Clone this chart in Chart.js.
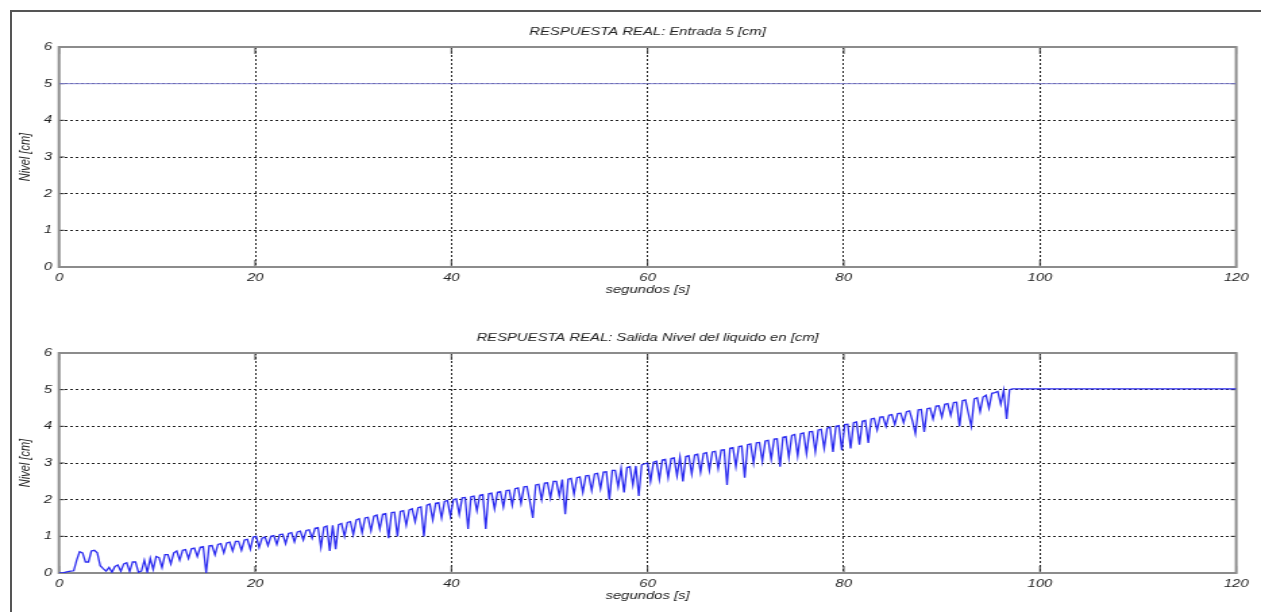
<!DOCTYPE html>
<html>
<head>
<meta charset="utf-8">
<script src="https://cdn.jsdelivr.net/npm/chart.js@4"></script>
<style>
  html, body { margin: 0; padding: 0; background: #fff; }
  body { width: 1261px; height: 612px; position: relative; overflow: hidden; }
  #marco { position: absolute; left: 10px; top: 10px; width: 1300px; height: 700px;
           border-left: 2px solid #555; border-top: 2px solid #555; }
  canvas { position: absolute; left: 0; }
  #graficoEntrada { top: 0; }
  #graficoSalida { top: 306px; }
</style>
</head>
<body>
<div id="marco"></div>
<canvas id="graficoEntrada" width="934" height="306" style="width:1261px;height:306px"></canvas>
<canvas id="graficoSalida" width="934" height="306" style="width:1261px;height:306px"></canvas>
<script>
// datos
const ticksX = [0, 20, 40, 60, 80, 100, 120];
const ticksY = [0, 1, 2, 3, 4, 5, 6];

const tiempoEntrada = [0, 120];
const nivelEntrada = [5, 5];

// salida muestreada cada 0.3 s desde t = 0 hasta t = 97.2
const pasoSalida = 0.3;
const nivelSalida = [
  0, 0, 0.02, 0.04, 0.05, 0.06, 0.35, 0.58, 0.55, 0.3,
  0.3, 0.6, 0.62, 0.55, 0.2, 0.12, 0.05, 0.15, 0.02, 0.18,
  0.22, 0.05, 0.25, 0.28, 0.04, 0.3, 0.3, 0.02, 0.05, 0.35,
  0.02, 0.4, 0.1, 0.45, 0.42, 0.15, 0.5, 0.5, 0.25, 0.55,
  0.6, 0.35, 0.62, 0.64, 0.4, 0.66, 0.68, 0.45, 0.7, 0.72,
  0.0, 0.74, 0.75, 0.5, 0.78, 0.8, 0.55, 0.82, 0.84, 0.6,
  0.86, 0.86, 0.62, 0.9, 0.92, 0.65, 0.98, 1.0, 0.7, 0.95,
  0.98, 0.75, 1.0, 1.02, 0.78, 1.05, 1.06, 0.8, 1.08, 1.1,
  0.85, 1.12, 1.14, 0.9, 1.16, 1.18, 0.95, 1.22, 1.24, 0.7,
  1.25, 1.28, 0.6, 1.3, 0.65, 1.32, 1.35, 1.0, 1.38, 1.4,
  1.05, 1.45, 1.48, 1.1, 1.5, 1.52, 1.15, 1.55, 1.58, 1.2,
  1.6, 1.62, 0.95, 1.65, 1.66, 1.0, 1.68, 1.7, 1.3, 1.72,
  1.75, 1.4, 1.78, 1.8, 1.0, 1.85, 1.88, 1.45, 1.9, 1.92,
  1.5, 1.95, 1.98, 1.55, 2.0, 2.02, 1.6, 2.05, 2.06, 1.2,
  2.08, 2.1, 1.7, 2.12, 2.14, 1.2, 2.16, 2.18, 1.75, 2.2,
  2.22, 1.8, 2.25, 2.26, 1.85, 2.3, 2.32, 1.9, 2.35, 2.36,
  1.95, 1.5, 2.4, 2.42, 2.0, 2.45, 2.46, 2.05, 2.5, 2.5,
  2.1, 2.55, 1.6, 2.56, 2.58, 2.15, 2.6, 2.62, 2.2, 2.65,
  2.66, 2.25, 2.7, 2.72, 2.3, 2.75, 2.76, 2.0, 2.8, 2.8,
  2.35, 2.85, 2.2, 2.88, 2.9, 2.4, 2.92, 2.1, 2.95, 2.98,
  3.0, 2.5, 3.02, 3.05, 2.55, 3.08, 3.1, 2.6, 3.12, 3.14,
  2.65, 3.16, 2.5, 3.18, 3.2, 2.7, 3.22, 3.24, 2.75, 3.26,
  3.28, 2.8, 3.3, 3.32, 2.85, 3.35, 3.36, 2.4, 3.4, 3.42,
  2.9, 3.45, 3.46, 2.6, 3.5, 3.52, 3.0, 3.55, 3.56, 3.05,
  3.6, 3.62, 3.1, 3.65, 3.66, 2.9, 3.7, 3.72, 3.15, 3.75,
  3.78, 3.2, 3.8, 3.82, 3.25, 3.85, 3.86, 3.3, 3.9, 3.92,
  3.4, 3.95, 3.98, 3.3, 4.0, 4.02, 3.35, 4.05, 4.06, 3.4,
  4.1, 4.12, 3.5, 4.14, 4.16, 3.55, 4.2, 4.22, 3.9, 4.25,
  4.26, 4.0, 4.3, 4.32, 4.05, 4.35, 4.36, 4.1, 4.4, 4.42,
  4.15, 3.8, 4.45, 4.46, 3.85, 4.48, 4.5, 4.2, 4.55, 4.56,
  4.25, 4.6, 4.62, 4.3, 4.65, 4.66, 4.0, 4.7, 4.72, 4.35,
  4.0, 4.75, 4.78, 4.4, 4.8, 4.85, 4.5, 4.9, 4.92, 4.95,
  4.6, 4.98, 4.2, 5.0, 5.02
];
// tramo final constante
const tiempoFinal = 120;
const nivelFinal = 5.02;

const fuente = { family: '"Liberation Sans", Arial, sans-serif', size: 11, style: 'italic', weight: 'normal' };

// recuadro gris y marcas de las divisiones, como en matlab
const marcoEjes = {
  id: 'marcoEjes',
  beforeDatasetsDraw(chart) {
    const { ctx, chartArea: a, scales: { x, y } } = chart;
    ctx.save();
    ctx.strokeStyle = '#333';
    ctx.lineWidth = 1;
    ctx.beginPath();
    x.ticks.forEach(t => {
      const px = x.getPixelForValue(t.value);
      ctx.moveTo(px, a.top); ctx.lineTo(px, a.top + 7);
      ctx.moveTo(px, a.bottom); ctx.lineTo(px, a.bottom - 7);
    });
    y.ticks.forEach(t => {
      const py = y.getPixelForValue(t.value);
      ctx.moveTo(a.left, py); ctx.lineTo(a.left + 4, py);
      ctx.moveTo(a.right, py); ctx.lineTo(a.right - 4, py);
    });
    ctx.stroke();
    ctx.strokeStyle = '#8c8c8c';
    ctx.lineWidth = 2;
    ctx.strokeRect(a.left, a.top, a.right - a.left, a.bottom - a.top);
    ctx.restore();
  }
};

function opciones(titulo) {
  return {
    responsive: false,
    animation: false,
    events: [],
    layout: { padding: { left: 0, right: 18.4, top: 20, bottom: 0 } },
    plugins: {
      legend: { display: false },
      tooltip: { enabled: false },
      title: {
        display: true, text: titulo, color: '#222', font: fuente, fullSize: false,
        padding: { top: 5, bottom: 8.8 }
      }
    },
    scales: {
      x: {
        type: 'linear', min: 0, max: 120,
        afterBuildTicks: s => { s.ticks = ticksX.map(v => ({ value: v })); },
        afterFit: s => { s.height = 39; },
        grid: { color: '#222', lineWidth: 1, drawTicks: false },
        border: { display: false, dash: [2, 2] },
        ticks: { padding: 4, color: '#222', font: fuente, maxRotation: 0 },
        title: { display: true, text: 'segundos [s]', color: '#222', font: fuente, padding: { top: 0, bottom: 9.4 } }
      },
      y: {
        type: 'linear', min: 0, max: 6,
        afterBuildTicks: s => { s.ticks = ticksY.map(v => ({ value: v })); },
        afterFit: s => { s.width = 43.7; },
        grid: { color: '#222', lineWidth: 1, drawTicks: false },
        border: { display: false, dash: [2, 2] },
        ticks: { padding: 5, color: '#222', font: fuente },
        title: { display: true, text: 'Nivel [cm]', color: '#222', font: fuente, padding: { top: 12.4, bottom: 0 } }
      }
    }
  };
}

new Chart(document.getElementById('graficoEntrada'), {
  type: 'line',
  data: {
    datasets: [{
      data: tiempoEntrada.map((t, i) => ({ x: t, y: nivelEntrada[i] })),
      borderColor: '#7f7fcf',
      borderWidth: 1,
      pointRadius: 0
    }]
  },
  options: opciones('RESPUESTA REAL: Entrada 5 [cm]'),
  plugins: [marcoEjes]
});

const puntosSalida = nivelSalida.map((v, i) => ({ x: i * pasoSalida, y: v }));
puntosSalida.push({ x: tiempoFinal, y: nivelFinal });

new Chart(document.getElementById('graficoSalida'), {
  type: 'line',
  data: {
    datasets: [{
      data: puntosSalida,
      borderColor: '#2b2bf0',
      borderWidth: 1.3,
      pointRadius: 0,
      tension: 0
    }]
  },
  options: opciones('RESPUESTA REAL: Salida Nivel del liquido en [cm]'),
  plugins: [marcoEjes]
});
</script>
</body>
</html>
